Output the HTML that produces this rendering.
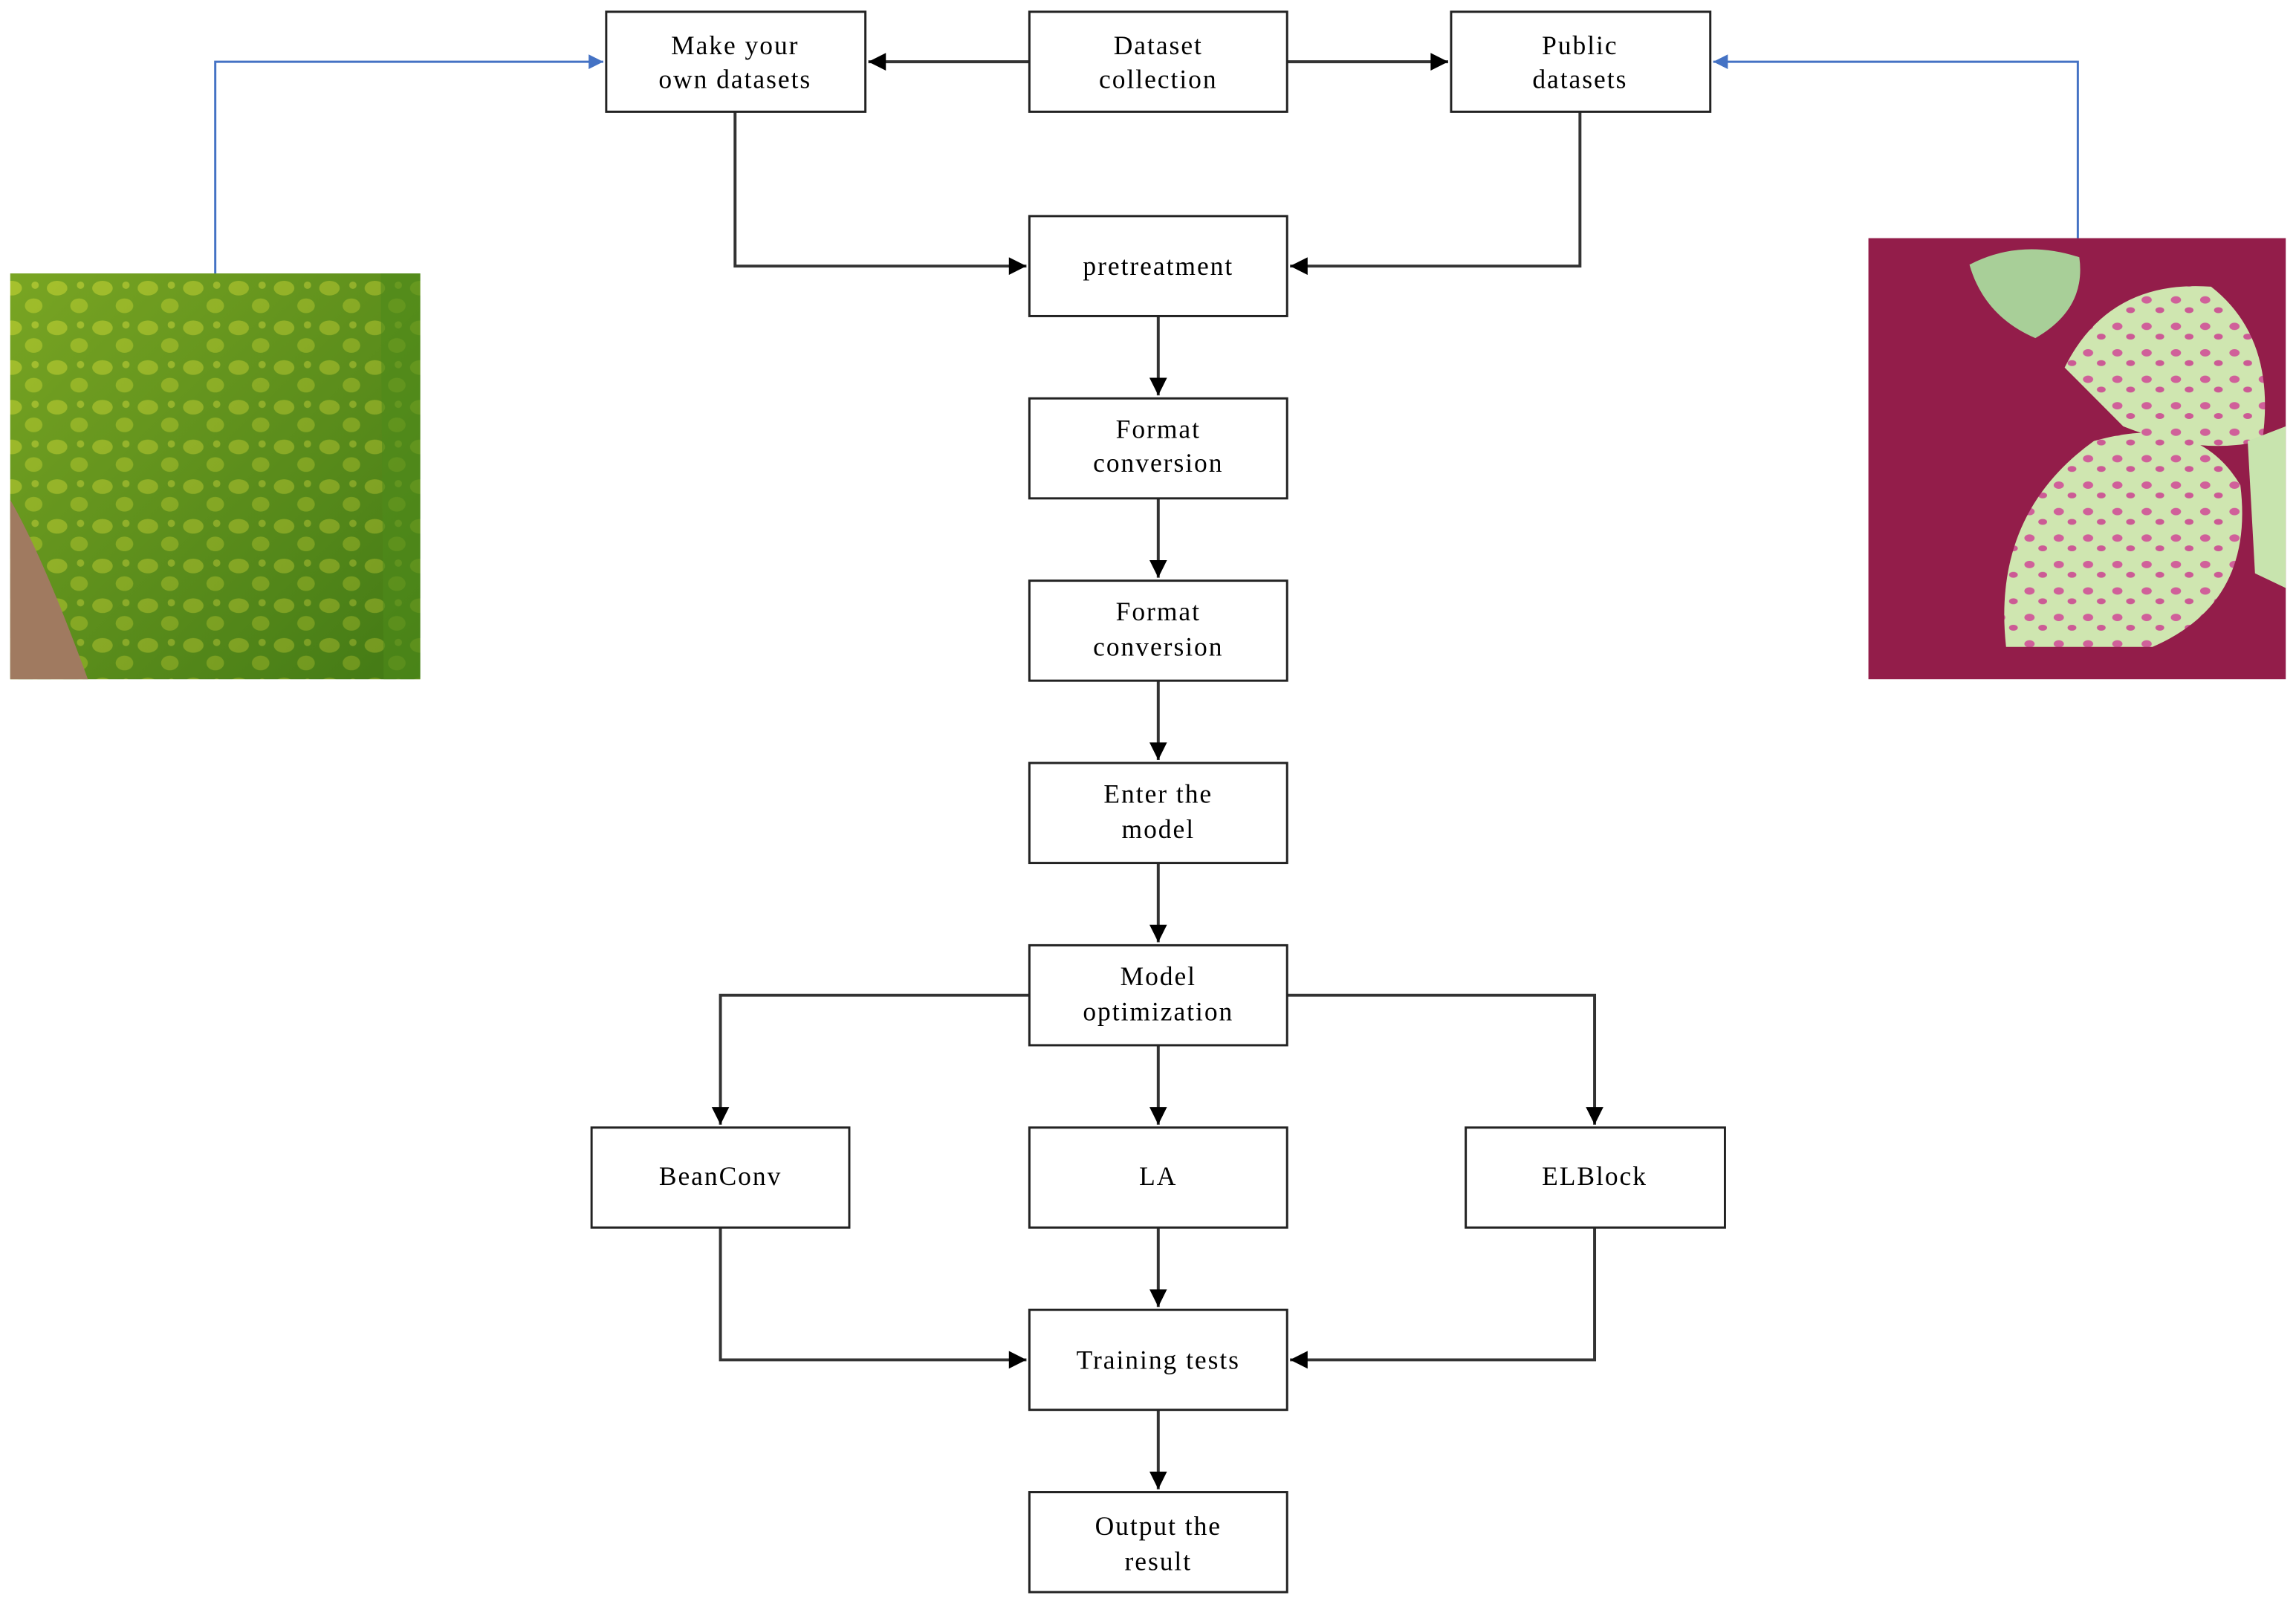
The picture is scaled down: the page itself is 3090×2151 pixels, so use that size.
<!DOCTYPE html>
<html><head><meta charset="utf-8"><style>
html,body{margin:0;padding:0;background:#fff;}
svg{display:block;}
text{font-family:"Liberation Serif",serif;font-size:18px;fill:#000;text-anchor:middle;letter-spacing:1px;}
</style></head><body>
<svg width="3090" height="2151" viewBox="0 0 1568 1087" preserveAspectRatio="none" xmlns="http://www.w3.org/2000/svg">
<defs>
<marker id="a" viewBox="0 0 10 10" refX="10" refY="5" markerWidth="14" markerHeight="12" orient="auto" markerUnits="userSpaceOnUse"><path d="M0,0L10,5L0,10z" fill="#000"/></marker>
<marker id="b" viewBox="0 0 10 10" refX="10" refY="5" markerWidth="12" markerHeight="10" orient="auto" markerUnits="userSpaceOnUse"><path d="M0,0L10,5L0,10z" fill="#4472c4"/></marker>
<pattern id="spots" width="31" height="27" patternUnits="userSpaceOnUse"><rect width="31" height="27" fill="#4f8a1c"/><ellipse cx="8" cy="7" rx="7" ry="5" fill="#a8c030" opacity="0.8"/><ellipse cx="23" cy="19" rx="6" ry="5" fill="#9cba2c" opacity="0.8"/><circle cx="24" cy="5" r="2.5" fill="#b8cc3a" opacity="0.7"/></pattern>
<pattern id="pink" width="20" height="18" patternUnits="userSpaceOnUse"><rect width="20" height="18" fill="#cfe6b0"/><ellipse cx="6" cy="6" rx="3.5" ry="2.5" fill="#d0609a"/><ellipse cx="15" cy="13" rx="3" ry="2" fill="#cc5a95"/></pattern>
<linearGradient id="shade" x1="0" y1="0" x2="1" y2="1"><stop offset="0" stop-color="#c8d830" stop-opacity="0.35"/><stop offset="1" stop-color="#2a5a08" stop-opacity="0.35"/></linearGradient>
</defs>
<rect x="7" y="186" width="280" height="276" fill="url(#spots)"/>
<rect x="7" y="186" width="280" height="276" fill="url(#shade)"/>
<path d="M7,340 Q30,380 60,462 L7,462z" fill="#a07a60"/>
<path d="M260,186 L287,186 L287,462 L262,462z" fill="#4f8a1a" opacity="0.6"/>
<rect x="1276" y="162" width="285" height="300" fill="#931d4a"/>
<path d="M1370,440 Q1360,350 1430,300 Q1500,280 1530,330 Q1540,410 1470,440z" fill="url(#pink)"/>
<path d="M1410,250 Q1440,190 1510,195 Q1555,230 1545,300 Q1500,310 1450,290z" fill="url(#pink)"/>
<path d="M1345,180 Q1380,162 1420,175 Q1425,210 1390,230 Q1355,215 1345,180z" fill="#a8cf98"/>
<path d="M1535,300 L1561,290 L1561,400 L1540,390z" fill="#c8e4ae"/>
<polyline points="147,186 147,42 412,42" fill="none" stroke="#4472c4" stroke-width="1.5" marker-end="url(#b)"/>
<polyline points="1419,162 1419,42 1170,42" fill="none" stroke="#4472c4" stroke-width="1.5" marker-end="url(#b)"/>
<g fill="none" stroke="#333" stroke-width="2">
<line x1="703" y1="42" x2="593" y2="42" marker-end="url(#a)"/>
<line x1="879" y1="42" x2="989" y2="42" marker-end="url(#a)"/>
<polyline points="502,76 502,181 701,181" marker-end="url(#a)"/>
<polyline points="1079,76 1079,181 881,181" marker-end="url(#a)"/>
<line x1="791" y1="215" x2="791" y2="269" marker-end="url(#a)"/>
<line x1="791" y1="339" x2="791" y2="393" marker-end="url(#a)"/>
<line x1="791" y1="463" x2="791" y2="517" marker-end="url(#a)"/>
<line x1="791" y1="587" x2="791" y2="641" marker-end="url(#a)"/>
<line x1="791" y1="711" x2="791" y2="765" marker-end="url(#a)"/>
<polyline points="703,677 492,677 492,765" marker-end="url(#a)"/>
<polyline points="879,677 1089,677 1089,765" marker-end="url(#a)"/>
<line x1="791" y1="835" x2="791" y2="889" marker-end="url(#a)"/>
<polyline points="492,835 492,925 701,925" marker-end="url(#a)"/>
<polyline points="1089,835 1089,925 881,925" marker-end="url(#a)"/>
<line x1="791" y1="959" x2="791" y2="1013" marker-end="url(#a)"/>
</g>
<g fill="#fff" stroke="#222" stroke-width="1.5">
<rect x="414" y="8" width="177" height="68"/>
<rect x="703" y="8" width="176" height="68"/>
<rect x="991" y="8" width="177" height="68"/>
<rect x="703" y="147" width="176" height="68"/>
<rect x="703" y="271" width="176" height="68"/>
<rect x="703" y="395" width="176" height="68"/>
<rect x="703" y="519" width="176" height="68"/>
<rect x="703" y="643" width="176" height="68"/>
<rect x="404" y="767" width="176" height="68"/>
<rect x="703" y="767" width="176" height="68"/>
<rect x="1001" y="767" width="177" height="68"/>
<rect x="703" y="891" width="176" height="68"/>
<rect x="703" y="1015" width="176" height="68"/>
</g>
<text x="502" y="37">Make your</text><text x="502" y="60">own datasets</text>
<text x="791" y="37">Dataset</text><text x="791" y="60">collection</text>
<text x="1079" y="37">Public</text><text x="1079" y="60">datasets</text>
<text x="791" y="187">pretreatment</text>
<text x="791" y="298">Format</text><text x="791" y="321">conversion</text>
<text x="791" y="422">Format</text><text x="791" y="446">conversion</text>
<text x="791" y="546">Enter the</text><text x="791" y="570">model</text>
<text x="791" y="670">Model</text><text x="791" y="694">optimization</text>
<text x="492" y="806">BeanConv</text>
<text x="791" y="806">LA</text>
<text x="1089" y="806">ELBlock</text>
<text x="791" y="931">Training tests</text>
<text x="791" y="1044">Output the</text><text x="791" y="1068">result</text>
</svg>
</body></html>
